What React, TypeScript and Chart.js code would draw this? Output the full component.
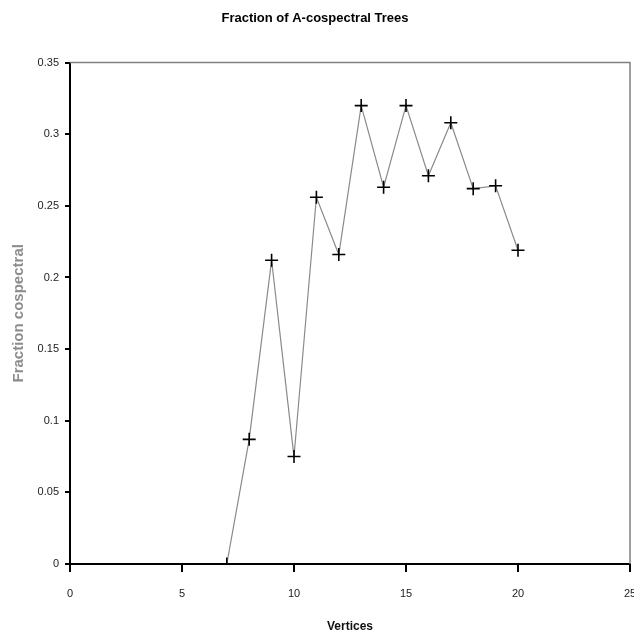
import React, { useEffect, useRef } from "react";
import { Chart, registerables } from "chart.js";

Chart.register(...registerables);

const vertices = [7, 8, 9, 10, 11, 12, 13, 14, 15, 16, 17, 18, 19, 20];
const fractionCospectral = [0, 0.087, 0.212, 0.075, 0.256, 0.216, 0.320, 0.263, 0.320, 0.271, 0.308, 0.262, 0.264, 0.219];
const xTicks = [0, 5, 10, 15, 20, 25];
const yTicks = [0, 0.05, 0.1, 0.15, 0.2, 0.25, 0.3, 0.35];

const frame = {
  id: "frame",
  beforeDatasetsDraw(chart: any) {
    const { ctx, chartArea } = chart;
    ctx.save();
    ctx.strokeStyle = "#808080";
    ctx.lineWidth = 1.5;
    ctx.beginPath();
    ctx.moveTo(chartArea.left, chartArea.top);
    ctx.lineTo(chartArea.right, chartArea.top);
    ctx.lineTo(chartArea.right, chartArea.bottom);
    ctx.stroke();
    ctx.restore();
  },
};

export default function App() {
  const ref = useRef<HTMLCanvasElement>(null);
  useEffect(() => {
    const points = vertices.map((v, i) => ({ x: v, y: fractionCospectral[i] }));
    const chart = new Chart(ref.current!, {
      type: "scatter",
      data: {
        datasets: [
          {
            data: points,
            showLine: true,
            borderColor: "#8a8a8a",
            borderWidth: 1.2,
            pointStyle: "cross",
            pointRadius: 6.5,
            pointBorderColor: "#000",
            pointBackgroundColor: "#000",
            pointBorderWidth: 1.6,
          },
        ],
      },
      options: {
        animation: false,
        responsive: false,
        layout: { autoPadding: false, padding: { left: 0, right: 4, top: 0, bottom: 0 } },
        plugins: {
          legend: { display: false },
          tooltip: { enabled: false },
          title: {
            display: true,
            text: "Fraction of A-cospectral Trees",
            color: "#000",
            font: { family: "Liberation Sans", size: 13, weight: "bold" },
            padding: { top: 11, bottom: 36 },
          },
        },
        scales: {
          x: {
            type: "linear",
            min: 0,
            max: 25,
            afterBuildTicks: (s: any) => {
              s.ticks = xTicks.map((v) => ({ value: v }));
            },
            afterFit: (s: any) => {
              s.height = 70;
              s.paddingRight = 0;
              s.paddingLeft = 0;
            },
            border: { color: "#000", width: 2 },
            grid: { drawOnChartArea: false, drawTicks: true, tickLength: 8, color: "#000", lineWidth: 2 },
            ticks: {
              color: "#222",
              padding: 15,
              maxRotation: 0,
              font: { family: "Liberation Sans", size: 11 },
            },
            title: {
              display: true,
              text: "Vertices",
              color: "#111",
              font: { family: "Liberation Sans", size: 12, weight: "bold" },
              padding: { top: 4, bottom: 0 },
            },
          },
          y: {
            type: "linear",
            min: 0,
            max: 0.35,
            afterBuildTicks: (s: any) => {
              s.ticks = yTicks.map((v) => ({ value: v }));
            },
            afterFit: (s: any) => {
              s.width = 70;
            },
            border: { color: "#000", width: 2 },
            grid: { drawOnChartArea: false, drawTicks: true, tickLength: 5, color: "#000", lineWidth: 2 },
            ticks: {
              color: "#222",
              padding: 6,
              font: { family: "Liberation Sans", size: 11 },
              callback: (v: any) => String(Number(v)),
            },
            title: {
              display: true,
              text: "Fraction cospectral",
              color: "#8c8c8c",
              font: { family: "Liberation Sans", size: 15, weight: "bold" },
              padding: { top: 10, bottom: 0 },
            },
          },
        },
      },
      plugins: [frame],
    });
    return () => chart.destroy();
  }, []);
  return (
    <div style={{ position: "fixed", left: 0, top: 0, width: 634, height: 634, background: "#fff" }}>
      <canvas ref={ref} width={634} height={634} />
    </div>
  );
}
